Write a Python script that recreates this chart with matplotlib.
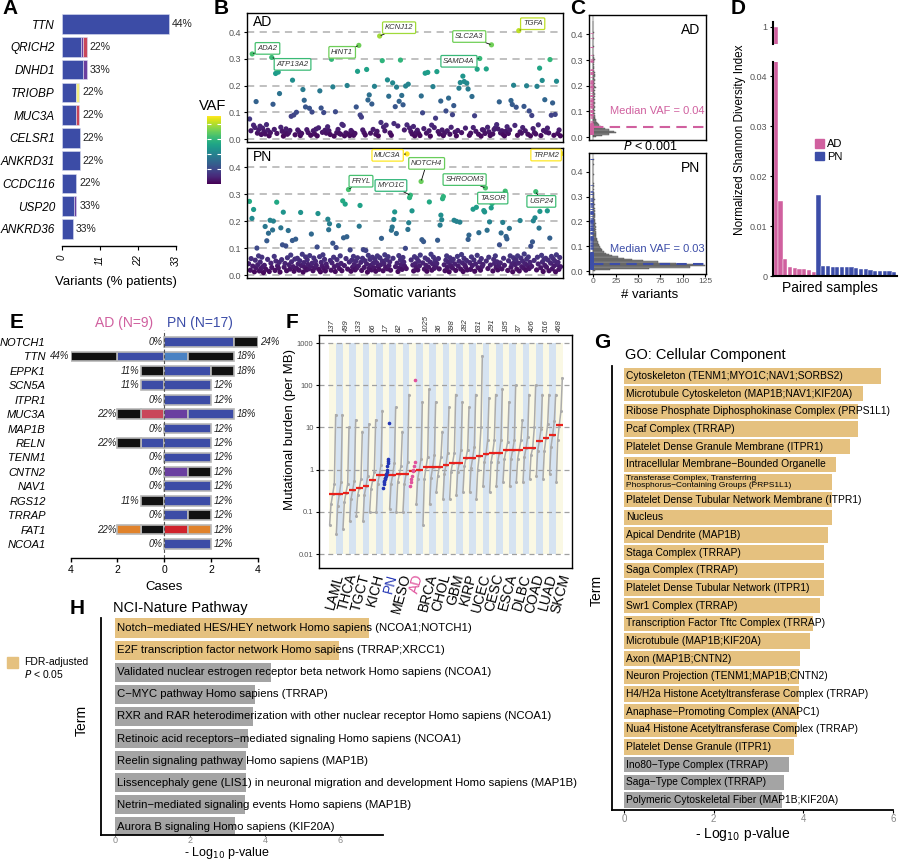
import matplotlib
matplotlib.use('Agg')
import matplotlib.pyplot as plt
import matplotlib.patches as patches
import numpy as np
from matplotlib.colors import Normalize
from matplotlib.cm import ScalarMappable

W, H = 900, 861
plt.rcParams['font.family'] = ['Liberation Sans', 'DejaVu Sans']
plt.rcParams['axes.linewidth'] = 0.8

PINK = '#D0609F'
BLUE = '#3C4DA8'
GOLD = '#E5C17F'
GREY_BAR = '#A4A4A4'
TICK_GREY = '#555555'

MUT_COLORS = {
    'Missense': '#3C4CA6', 'Multi_Hit': '#111111', 'Frame_Shift_Ins': '#4A82C3',
    'Nonsense': '#6A3FA0', 'Frame_Shift_Del': '#C9465A', 'Splice_Site': '#E0822B',
    'In_Frame_Del': '#D0222B', 'In_Frame_Ins': '#F3EE80',
}

# ---------------- A: top mutated genes ----------------
A_GENES = ['TTN', 'QRICH2', 'DNHD1', 'TRIOBP', 'MUC3A', 'CELSR1', 'ANKRD31',
           'CCDC116', 'USP20', 'ANKRD36']
A_SEGMENTS = [
    [('Missense', 31.0)],
    [('Missense', 5.6), ('Nonsense', 0.5), ('Frame_Shift_Del', 1.0)],
    [('Missense', 6.1), ('Nonsense', 1.0)],
    [('Missense', 4.05), ('In_Frame_Ins', 0.85)],
    [('Missense', 3.95), ('Frame_Shift_Del', 1.05)],
    [('Missense', 5.1)],
    [('Missense', 5.1)],
    [('Missense', 4.15)],
    [('Missense', 3.6), ('Nonsense', 0.55)],
    [('Missense', 3.1)],
]
A_PCT = ['44%', '22%', '33%', '22%', '22%', '22%', '22%', '22%', '33%', '33%']

# ---------------- B: somatic variant VAF ----------------
AD_VAF = [
    0.075, 0.031, 0.318, 0.052, 0.043, 0.14, 0.022, 0.035, 0.048, 0.017,
    0.041, 0.028, 0.019, 0.054, 0.033, 0.012, 0.024, 0.305, 0.13, 0.036,
    0.245, 0.021, 0.25, 0.17, 0.044, 0.029, 0.011, 0.026, 0.038, 0.018,
    0.023, 0.032, 0.085, 0.22, 0.09, 0.016, 0.10, 0.034, 0.027, 0.013,
    0.021, 0.185, 0.145, 0.12, 0.035, 0.024, 0.115, 0.014, 0.101, 0.031,
    0.019, 0.037, 0.012, 0.042, 0.18, 0.116, 0.025, 0.099, 0.033, 0.022,
    0.046, 0.031, 0.017, 0.298, 0.195, 0.011, 0.102, 0.024, 0.036, 0.021,
    0.018, 0.055, 0.051, 0.012, 0.023, 0.20, 0.019, 0.013, 0.032, 0.026,
    0.014, 0.021, 0.12, 0.253, 0.35, 0.09, 0.082, 0.034, 0.024, 0.015,
    0.26, 0.146, 0.165, 0.022, 0.131, 0.036, 0.197, 0.018, 0.029, 0.012,
    0.385, 0.062, 0.293, 0.045, 0.031, 0.052, 0.221, 0.16, 0.023, 0.014,
    0.21, 0.058, 0.121, 0.194, 0.049, 0.141, 0.295, 0.163, 0.128, 0.034,
    0.198, 0.053, 0.205, 0.041, 0.028, 0.019, 0.047, 0.012, 0.024, 0.033,
    0.021, 0.013, 0.161, 0.098, 0.039, 0.246, 0.022, 0.249, 0.031, 0.011,
    0.052, 0.196, 0.043, 0.078, 0.252, 0.028, 0.019, 0.142, 0.034, 0.013,
    0.023, 0.105, 0.031, 0.153, 0.018, 0.044, 0.091, 0.125, 0.026, 0.012,
    0.032, 0.19, 0.211, 0.024, 0.235, 0.215, 0.041, 0.209, 0.187, 0.014,
    0.022, 0.159, 0.043, 0.087, 0.029, 0.261, 0.018, 0.301, 0.011, 0.035,
    0.033, 0.021, 0.262, 0.044, 0.027, 0.013, 0.352, 0.019, 0.036, 0.042,
    0.054, 0.038, 0.139, 0.023, 0.031, 0.017, 0.012, 0.029, 0.046, 0.021,
    0.034, 0.144, 0.129, 0.201, 0.051, 0.119, 0.014, 0.405, 0.027, 0.022,
    0.043, 0.122, 0.031, 0.199, 0.018, 0.105, 0.012, 0.088, 0.039, 0.024,
    0.019, 0.197, 0.053, 0.265, 0.013, 0.219, 0.032, 0.147, 0.026, 0.041,
    0.023, 0.297, 0.089, 0.135, 0.014, 0.092, 0.216, 0.021, 0.034, 0.012,
]
PN_VAF = [
    0.042, 0.273, 0.018, 0.061, 0.21, 0.033, 0.243, 0.012, 0.055, 0.027, 0.10, 0.038, 0.071, 0.015, 0.048, 0.024, 0.066, 0.031, 0.009,
    0.036, 0.18, 0.021, 0.127, 0.058, 0.155, 0.013, 0.203, 0.044, 0.028, 0.167, 0.2, 0.069, 0.017, 0.052, 0.27, 0.034, 0.026, 0.047,
    0.011, 0.175, 0.057, 0.112, 0.233, 0.029, 0.043, 0.108, 0.016, 0.064, 0.165, 0.038, 0.022, 0.074, 0.049, 0.128, 0.031, 0.014, 0.059,
    0.133, 0.025, 0.062, 0.041, 0.018, 0.053, 0.232, 0.035, 0.077, 0.011, 0.046, 0.028, 0.067, 0.019, 0.056, 0.039, 0.023, 0.072, 0.032,
    0.152, 0.044, 0.016, 0.063, 0.027, 0.051, 0.036, 0.104, 0.228, 0.021, 0.068, 0.012, 0.047, 0.033, 0.075, 0.024, 0.058, 0.015, 0.041,
    0.029, 0.207, 0.168, 0.19, 0.054, 0.018, 0.045, 0.118, 0.066, 0.031, 0.013, 0.102, 0.057, 0.037, 0.183, 0.024, 0.071, 0.043, 0.016,
    0.275, 0.138, 0.035, 0.263, 0.061, 0.142, 0.022, 0.317, 0.048, 0.093, 0.014, 0.055, 0.029, 0.069, 0.039, 0.019, 0.052, 0.026, 0.064,
    0.034, 0.181, 0.258, 0.047, 0.017, 0.062, 0.094, 0.028, 0.053, 0.091, 0.041, 0.011, 0.073, 0.025, 0.058, 0.036, 0.019, 0.066, 0.044,
    0.027, 0.059, 0.014, 0.046, 0.071, 0.032, 0.021, 0.064, 0.038, 0.136, 0.052, 0.016, 0.043, 0.075, 0.029, 0.057, 0.023, 0.068, 0.035,
    0.049, 0.018, 0.166, 0.178, 0.062, 0.206, 0.234, 0.031, 0.154, 0.044, 0.013, 0.072, 0.026, 0.057, 0.039, 0.021, 0.065, 0.048, 0.033,
    0.099, 0.024, 0.449, 0.169, 0.194, 0.287, 0.296, 0.056, 0.238, 0.037, 0.015, 0.068, 0.042, 0.027, 0.061, 0.019, 0.051, 0.034, 0.074,
    0.347, 0.131, 0.045, 0.124, 0.022, 0.063, 0.036, 0.014, 0.057, 0.029, 0.271, 0.048, 0.077, 0.018, 0.041, 0.066, 0.025, 0.053, 0.032,
    0.043, 0.129, 0.061, 0.023, 0.185, 0.222, 0.205, 0.283, 0.291, 0.038, 0.016, 0.055, 0.071, 0.028, 0.047, 0.012, 0.064, 0.035, 0.052,
    0.026, 0.058, 0.203, 0.041, 0.017, 0.199, 0.069, 0.033, 0.051, 0.196, 0.022, 0.076, 0.045, 0.013, 0.062, 0.037, 0.029, 0.054, 0.019,
    0.132, 0.148, 0.046, 0.021, 0.067, 0.035, 0.244, 0.056, 0.014, 0.041, 0.251, 0.073, 0.027, 0.157, 0.049, 0.018, 0.061, 0.032, 0.039,
    0.239, 0.234, 0.323, 0.052, 0.166, 0.024, 0.066, 0.197, 0.037, 0.249, 0.265, 0.015, 0.058, 0.043, 0.071, 0.028, 0.049, 0.019, 0.034,
    0.112, 0.045, 0.156, 0.023, 0.195, 0.062, 0.036, 0.311, 0.143, 0.134, 0.017, 0.053, 0.173, 0.071, 0.029, 0.041, 0.012, 0.064, 0.048,
    0.038, 0.057, 0.022, 0.071, 0.044, 0.015, 0.202, 0.063, 0.031, 0.051, 0.026, 0.078, 0.042, 0.018, 0.059, 0.035, 0.067, 0.024, 0.047,
    0.107, 0.032, 0.123, 0.201, 0.054, 0.212, 0.309, 0.019, 0.066, 0.041, 0.174, 0.236, 0.027, 0.073, 0.048, 0.013, 0.058, 0.036, 0.062,
    0.029, 0.238, 0.055, 0.016, 0.137, 0.044, 0.069, 0.023, 0.061, 0.034, 0.052, 0.012, 0.075, 0.039, 0.047, 0.021, 0.065, 0.031, 0.45,
]
# labelled genes: (gene, vaf of its variant, label offset in points)
AD_LABELS = [('ADA2', 0.318, (11, 4)), ('ATP13A2', 0.305, (15, -5)), ('HINT1', 0.35, (-12, -5)),
             ('KCNJ12', 0.385, (14, 6)), ('SLC2A3', 0.352, (-16, 6)), ('SAMD4A', 0.301, (-15, -2)),
             ('TGFA', 0.405, (10, 5))]
PN_LABELS = [('MUC3A', 0.449, (-14, -1)), ('NOTCH4', 0.347, (4, 13)), ('FRYL', 0.317, (9, 6)),
             ('MYO1C', 0.296, (-14, 7)), ('SHROOM3', 0.323, (-15, 6)), ('TASOR', 0.311, (-9, -5)),
             ('USP24', 0.309, (4, -7)), ('TRPM2', 0.45, (-11, -1))]

# ---------------- C: VAF histograms (bin width 0.005) ----------------
AD_HIST = [3, 9, 17, 25, 23, 17, 13, 10, 8, 6, 5, 4, 3, 3, 2,
           2, 2, 1, 2, 1, 2, 1, 1, 2, 1, 1, 2, 1, 1, 2,
           1, 2, 1, 2, 1, 1, 2, 1, 3, 2, 1, 2, 1, 1, 2,
           1, 1, 2, 2, 1, 2, 1, 0, 1, 1, 0, 1, 0, 1, 1,
           2, 1, 0, 1, 0, 0, 0, 0, 0, 0, 1, 0, 0, 0, 0,
           0, 1, 0, 0, 0, 0, 1, 0, 0, 0, 0, 0, 0, 0, 0]
PN_HIST = [2, 18, 62, 108, 125, 112, 92, 72, 55, 43, 34, 27, 21, 17, 14,
           12, 10, 9, 8, 7, 6, 6, 5, 5, 4, 4, 4, 3, 3, 3,
           3, 3, 2, 3, 2, 3, 2, 2, 3, 2, 2, 2, 1, 2, 2,
           2, 2, 1, 2, 1, 2, 1, 1, 2, 1, 1, 1, 2, 1, 1,
           1, 1, 1, 1, 0, 1, 0, 0, 1, 0, 1, 0, 0, 0, 0,
           0, 0, 1, 0, 0, 0, 0, 0, 0, 0, 1, 0, 0, 0, 1]
AD_MEDIAN_VAF = 0.04
PN_MEDIAN_VAF = 0.03

# ---------------- D: Shannon diversity ----------------
D_AD = [1.0, 0.0151, 0.0035, 0.0019, 0.0017, 0.0014, 0.0014, 0.0013, 0.0008]
D_PN = [0.0163, 0.0021, 0.0020, 0.0019, 0.0019, 0.0018, 0.0018, 0.0018, 0.0017,
        0.0014, 0.0014, 0.0013, 0.0011, 0.0011, 0.0011, 0.0010, 0.0008]

# ---------------- E: AD vs PN cases ----------------
E_GENES = ['NOTCH1', 'TTN', 'EPPK1', 'SCN5A', 'ITPR1', 'MUC3A', 'MAP1B', 'RELN',
           'TENM1', 'CNTN2', 'NAV1', 'RGS12', 'TRRAP', 'FAT1', 'NCOA1']
E_AD = [[], [('Missense', 2), ('Multi_Hit', 2)], [('Multi_Hit', 1)], [('Missense', 1)], [],
        [('Frame_Shift_Del', 1), ('Multi_Hit', 1)], [], [('Missense', 1), ('Multi_Hit', 1)],
        [], [], [], [('Multi_Hit', 1)], [], [('Multi_Hit', 1), ('Splice_Site', 1)], []]
E_PN = [[('Missense', 3), ('Multi_Hit', 1)], [('Frame_Shift_Ins', 1), ('Multi_Hit', 2)],
        [('Missense', 2), ('Multi_Hit', 1)], [('Missense', 2)], [('Missense', 2)],
        [('Nonsense', 1), ('Missense', 2)], [('Missense', 2)], [('Missense', 2)],
        [('Missense', 2)], [('Nonsense', 1), ('Multi_Hit', 1)], [('Missense', 2)],
        [('Missense', 2)], [('Missense', 1), ('Multi_Hit', 1)],
        [('In_Frame_Del', 1), ('Splice_Site', 1)], [('Missense', 2)]]
N_AD, N_PN = 9, 17

# ---------------- F: TCGA mutational burden ----------------
F_LABELS = ['LAML', 'THCA', 'TGCT', 'KICH', 'PN', 'MESO', 'AD', 'BRCA', 'CHOL', 'GBM',
            'KIRP', 'UCEC', 'CESC', 'ESCA', 'DLBC', 'COAD', 'LUAD', 'SKCM']
F_N = [137, 499, 133, 66, 17, 82, 9, 1025, 36, 398, 282, 531, 291, 185, 37, 406, 516, 468]
# one entry per column (35 cohorts, only every other one is labelled); None = own cohort
F_MEDIAN = [0.26, 0.26, 0.285, 0.33, 0.37, 0.40, 0.56, 0.73, None, 0.75, 0.77, 0.77, None,
            1.0, 1.13, 1.13, 1.13, 1.3, 1.47, 1.47, 1.9, 1.9, 2.15, 2.35, 2.5, 2.5, 2.85,
            2.9, 3.0, 3.2, 3.25, 4.85, 5.6, 6.6, 11.7]
F_LO = [0.05, 0.03, 0.04, 0.06, 0.08, 0.06, 0.1, 0.1, None, 0.12, 0.1, 0.1, None,
        0.15, 0.05, 0.15, 0.3, 0.2, 0.2, 0.25, 0.3, 0.3, 0.2, 0.4, 0.3, 0.4, 0.5,
        0.4, 0.5, 0.5, 0.6, 0.7, 0.6, 0.8, 0.5]
F_Q25 = [0.15, 0.14, 0.17, 0.2, 0.25, 0.25, 0.35, 0.45, None, 0.45, 0.5, 0.45, None,
         0.6, 0.6, 0.65, 0.7, 0.8, 0.9, 0.9, 1.2, 1.1, 1.0, 1.5, 1.5, 1.5, 1.8,
         1.8, 1.8, 2.0, 2.2, 2.8, 2.8, 3.5, 5.0]
F_Q75 = [0.45, 0.5, 0.45, 0.55, 0.6, 0.7, 0.9, 1.3, None, 1.4, 1.2, 1.5, None,
         1.8, 2.0, 2.2, 2.0, 2.5, 2.5, 3.0, 3.0, 3.5, 10, 5, 5, 5, 4.5,
         5, 5, 6, 10, 9, 12, 14, 25]
F_HI = [20, 20, 10, 15, 8, 12, 15, 25, None, 30, 8, 60, None,
        40, 80, 40, 8, 30, 60, 40, 30, 60, 500, 50, 60, 80, 40,
        100, 15, 60, 100, 60, 60, 60, 150]
PN_TMB = [0.36, 0.45, 0.5, 0.55, 0.6, 0.62, 0.65, 0.7, 0.73, 0.8, 0.9, 1.0, 1.2, 1.4, 1.6, 1.8, 13]
AD_TMB = [0.4, 0.5, 0.6, 0.7, 0.95, 1.0, 1.2, 1.5, 130]

# ---------------- G: GO cellular component ----------------
GO_TERMS = [
    'Cytoskeleton (TENM1;MYO1C;NAV1;SORBS2)',
    'Microtubule Cytoskeleton (MAP1B;NAV1;KIF20A)',
    'Ribose Phosphate Diphosphokinase Complex (PRPS1L1)',
    'Pcaf Complex (TRRAP)',
    'Platelet Dense Granule Membrane (ITPR1)',
    'Intracellular Membrane\u2212Bounded Organelle',
    'Transferase Complex, Transferring\nPhosphorus\u2212Containing Groups (PRPS1L1)',
    'Platelet Dense Tubular Network Membrane (ITPR1)',
    'Nucleus',
    'Apical Dendrite (MAP1B)',
    'Staga Complex (TRRAP)',
    'Saga Complex (TRRAP)',
    'Platelet Dense Tubular Network (ITPR1)',
    'Swr1 Complex (TRRAP)',
    'Transcription Factor Tftc Complex (TRRAP)',
    'Microtubule (MAP1B;KIF20A)',
    'Axon (MAP1B;CNTN2)',
    'Neuron Projection (TENM1;MAP1B;CNTN2)',
    'H4/H2a Histone Acetyltransferase Complex (TRRAP)',
    'Anaphase\u2212Promoting Complex (ANAPC1)',
    'Nua4 Histone Acetyltransferase Complex (TRRAP)',
    'Platelet Dense Granule (ITPR1)',
    'Ino80\u2212Type Complex (TRRAP)',
    'Saga\u2212Type Complex (TRRAP)',
    'Polymeric Cytoskeletal Fiber (MAP1B;KIF20A)',
]
GO_VALUES = [5.73, 5.33, 5.23, 5.23, 5.04, 4.73, 4.65, 4.65, 4.64, 4.54, 4.45, 4.45, 4.45,
             4.36, 4.21, 4.15, 3.93, 3.91, 3.91, 3.91, 3.85, 3.80, 3.68, 3.56, 3.52]
GO_SIG = [True] * 22 + [False] * 3

# ---------------- H: NCI-Nature pathway ----------------
NCI_TERMS = [
    'Notch\u2212mediated HES/HEY network Homo sapiens (NCOA1;NOTCH1)',
    'E2F transcription factor network Homo sapiens (TRRAP;XRCC1)',
    'Validated nuclear estrogen receptor beta network Homo sapiens (NCOA1)',
    'C\u2212MYC pathway Homo sapiens (TRRAP)',
    'RXR and RAR heterodimerization with other nuclear receptor Homo sapiens (NCOA1)',
    'Retinoic acid receptors\u2212mediated signaling Homo sapiens (NCOA1)',
    'Reelin signaling pathway Homo sapiens (MAP1B)',
    'Lissencephaly gene (LIS1) in neuronal migration and development Homo sapiens (MAP1B)',
    'Netrin\u2212mediated signaling events Homo sapiens (MAP1B)',
    'Aurora B signaling Homo sapiens (KIF20A)',
]
NCI_VALUES = [6.77, 5.97, 4.15, 3.73, 3.69, 3.54, 3.49, 3.49, 3.47, 3.20]
NCI_SIG = [True, True] + [False] * 8


fig = plt.figure(figsize=(9, 8.61), dpi=100)


def px_axes(l, t, r, b):
    return fig.add_axes([l / W, 1 - b / H, (r - l) / W, (b - t) / H])


def ftext(x, y, s, **kw):
    kw.setdefault('ha', 'center')
    kw.setdefault('va', 'center')
    return fig.text(x / W, 1 - y / H, s, **kw)


def only_spines(ax, keep, lw=0.8):
    for name, sp in ax.spines.items():
        sp.set_visible(name in keep)
        sp.set_linewidth(lw)


# panel letters
for letter, (x, y) in {'A': (10, 8), 'B': (221, 8), 'C': (578, 8), 'D': (738, 8),
                       'E': (17, 322), 'F': (292, 323), 'G': (602, 343), 'H': (77, 609)}.items():
    ftext(x, y, letter, fontsize=15, fontweight='bold')

# ======== A ========
ax = px_axes(62, 12, 176, 246)
for i, segs in enumerate(A_SEGMENTS):
    left = 0
    for kind, w in segs:
        ax.barh(i, w, left=left, height=0.85, color=MUT_COLORS[kind], edgecolor='#DADDF0', lw=0.4)
        left += w
    ax.text(left + 0.9, i, A_PCT[i], va='center', ha='left', fontsize=7.5, color='#222222')
ax.set_xlim(0, 33)
ax.set_ylim(9.75, -0.53)
ax.set_yticks(range(len(A_GENES)))
ax.set_yticklabels(A_GENES, style='italic', fontsize=8.5)
ax.tick_params(axis='y', length=0, pad=5)
ax.set_xticks([0, 11, 22, 33])
ax.set_xticklabels(['0', '11', '22', '33'], rotation=90, style='italic', fontsize=7)
ax.tick_params(axis='x', length=3, width=0.8)
only_spines(ax, ['bottom'], lw=1.0)
ftext(116, 282, 'Variants (% patients)', fontsize=9.5)

# ======== B ========
cmap = plt.get_cmap('viridis')
norm = Normalize(0, 0.45)
for vafs, labels, (top, bot), tag in [(AD_VAF, AD_LABELS, (13, 142), 'AD'),
                                      (PN_VAF, PN_LABELS, (148, 278), 'PN')]:
    ax = px_axes(247, top, 563, bot)
    x = np.arange(len(vafs))
    for yv in [0, 0.1, 0.2, 0.3, 0.4]:
        ax.axhline(yv, color='#BBBBBB', lw=1.3, ls=(0, (4, 3)), zorder=0)
    ax.scatter(x, vafs, c=vafs, cmap=cmap, norm=norm, s=14, lw=0, zorder=2)
    ax.set_xlim(-2, len(vafs) + 1)
    ax.set_ylim(-0.011, 0.471)
    ax.set_xticks([])
    ax.set_yticks([0, 0.1, 0.2, 0.3, 0.4])
    ax.set_yticklabels(['0.0', '0.1', '0.2', '0.3', '0.4'])
    ax.tick_params(axis='y', labelsize=6.5, labelcolor=TICK_GREY, length=2, pad=2)
    for sp in ax.spines.values():
        sp.set_linewidth(1.0)
    ax.text(0.02, 0.93, tag, transform=ax.transAxes, fontsize=10, ha='left', va='center')
    for gene, v, off in labels:
        idx = vafs.index(v)
        col = cmap(norm(v))
        ax.annotate(gene, xy=(idx, v), xytext=off, textcoords='offset points',
                    fontsize=5.5, style='italic', color='#333333', ha='center', va='center',
                    bbox=dict(boxstyle='round,pad=0.3,rounding_size=0.15', fc='white', ec=col, lw=0.9),
                    arrowprops=dict(arrowstyle='-', color='black', lw=0.6, shrinkA=0, shrinkB=1),
                    zorder=4)
cax = px_axes(207, 116, 221, 184)
cb = fig.colorbar(ScalarMappable(norm=Normalize(0, 0.45), cmap=cmap), cax=cax, ticks=[0.1, 0.2, 0.3, 0.4])
cb.outline.set_visible(False)
cax.tick_params(length=3, color='white', direction='in', left=True, right=True,
                labelright=False, labelleft=False)
ftext(213, 106, 'VAF', fontsize=10.5)
ftext(405, 293, 'Somatic variants', fontsize=10)

# ======== C ========
bin_w = 0.005
centers = (np.arange(len(AD_HIST)) + 0.5) * bin_w
for hist, vafs, med, col, (top, bot), tag in [
        (AD_HIST, AD_VAF, AD_MEDIAN_VAF, PINK, (15, 140), 'AD'),
        (PN_HIST, PN_VAF, PN_MEDIAN_VAF, BLUE, (153, 274), 'PN')]:
    ax = px_axes(589, top, 706, bot)
    ax.axvline(0, color='#CCCCCC', lw=1.5, zorder=0)
    ax.barh(centers, hist, height=bin_w, color='#8A8A8A', edgecolor='#4A4A4A', lw=0.3, zorder=2)
    ax.hlines(vafs, -4, -0.8, color=col, lw=0.5, zorder=3)
    ax.plot([0, 126], [med, med], color=col, lw=1.5, ls=(0, (5, 3)), zorder=4)
    ax.text(124, med + 0.06, f'Median VAF = {med:.2f}', color=col, fontsize=8,
            ha='right', va='center')
    ax.text(0.95, 0.88, tag, transform=ax.transAxes, fontsize=10, ha='right', va='center')
    ax.set_xlim(-5, 126)
    ax.set_ylim(-0.011, 0.475)
    ax.set_yticks([0, 0.1, 0.2, 0.3, 0.4])
    ax.set_yticklabels(['0.0', '0.1', '0.2', '0.3', '0.4'])
    ax.tick_params(axis='y', labelsize=6.5, labelcolor=TICK_GREY, length=2, pad=2)
    ax.set_xticks([0, 25, 50, 75, 100, 125])
    ax.tick_params(axis='x', labelsize=6, labelcolor=TICK_GREY, length=2, pad=1)
    if tag == 'AD':
        ax.tick_params(axis='x', labelbottom=False, length=0)
    for sp in ax.spines.values():
        sp.set_linewidth(1.0)
ftext(650, 147, '$P$ < 0.001', fontsize=9)
ftext(650, 295, '# variants', fontsize=9.5)

# ======== D ========
d_vals = D_AD + D_PN
d_cols = [PINK] * len(D_AD) + [BLUE] * len(D_PN)
xs = np.arange(len(d_vals))
ax_lo = px_axes(773, 62, 897, 276)
ax_hi = px_axes(773, 22, 897, 44)
for a in (ax_lo, ax_hi):
    a.bar(xs, d_vals, width=0.88, color=d_cols, edgecolor='white', lw=0.3)
    a.set_xlim(-0.6, len(d_vals) - 0.4)
    a.set_xticks([])
    a.tick_params(axis='y', labelsize=6.5, labelcolor=TICK_GREY, length=2, pad=2)
ax_lo.set_ylim(0, 0.0428)
ax_lo.set_yticks([0, 0.01, 0.02, 0.03, 0.04])
ax_lo.set_yticklabels(['0', '0.01', '0.02', '0.03', '0.04'])
only_spines(ax_lo, ['left', 'bottom'], lw=1.5)
ax_hi.set_ylim(0.992, 1.0023)
ax_hi.set_yticks([1])
ax_hi.set_yticklabels(['1'])
only_spines(ax_hi, ['left'], lw=1.5)
ax_lo.legend(handles=[patches.Patch(color=PINK, label='AD'), patches.Patch(color=BLUE, label='PN')],
             loc='upper left', bbox_to_anchor=(0.3, 0.66), frameon=False, fontsize=8,
             handlelength=0.8, handleheight=0.8, handletextpad=0.3, labelspacing=0.2,
             borderaxespad=0)
ftext(740, 140, 'Normalized Shannon Diversity Index', fontsize=8.5, rotation=90)
ftext(830, 288, 'Paired samples', fontsize=10)

# ======== E ========
ax = px_axes(70.7, 330, 257.7, 558)
for i in range(len(E_GENES)):
    left = 0
    for kind, n in E_AD[i]:
        ax.barh(i, -n, left=left, height=0.68, color=MUT_COLORS[kind], edgecolor='#B8B8B8', lw=1.2)
        left -= n
    ax.text(left - 0.05, i, f'{round(100 * -left / N_AD)}%', ha='right', va='center',
            fontsize=7, style='italic', color='#222222')
    right = 0
    for kind, n in E_PN[i]:
        ax.barh(i, n, left=right, height=0.68, color=MUT_COLORS[kind], edgecolor='#B8B8B8', lw=1.2)
        right += n
    ax.text(right + 0.1, i, f'{round(100 * right / N_PN)}%', ha='left', va='center',
            fontsize=7, style='italic', color='#222222', clip_on=False)
ax.axvline(0, color='#555555', lw=0.8, ls=(0, (3, 2)), zorder=5)
ax.set_xlim(-4, 4)
ax.set_ylim(14.97, -0.83)
ax.set_yticks(range(len(E_GENES)))
ax.set_yticklabels(E_GENES, style='italic', fontsize=8)
ax.tick_params(axis='y', length=0, pad=18)
ax.set_xticks([-4, -2, 0, 2, 4])
ax.set_xticklabels(['4', '2', '0', '2', '4'])
ax.tick_params(axis='x', labelsize=7.5, length=3, width=1.0, pad=2)
only_spines(ax, ['bottom'], lw=1.0)
ftext(124, 323, f'AD (N={N_AD})', fontsize=10, color=PINK)
ftext(200, 323, f'PN (N={N_PN})', fontsize=10, color=BLUE)
ftext(164, 587, 'Cases', fontsize=9.5)

# ======== F ========
ax = px_axes(319, 335, 572, 568)
ax.set_yscale('log')
n_cols = len(F_MEDIAN)
for c in range(n_cols):
    ax.add_patch(patches.Rectangle((c - 0.5, 0.01), 1, 1000 - 0.01, lw=0,
                                   color='#FAF8E4' if c % 2 == 0 else '#D6E3F1', zorder=0))
for yv in [0.01, 0.1, 1, 10, 100, 1000]:
    ax.axhline(yv, color='#A0A0A0', lw=0.9, ls=(0, (4, 3)), zorder=1)
rel = np.array([-0.45, -0.25, 0, 0.25, 0.45])
for c in range(n_cols):
    if F_MEDIAN[c] is None:
        continue
    ys = [F_LO[c], F_Q25[c], F_MEDIAN[c], F_Q75[c], F_HI[c]]
    ax.plot(c + rel, ys, color='#ABABAB', lw=1.1, marker='o', ms=1.2, zorder=2)
    ax.hlines(F_MEDIAN[c], c - 0.5, c + 0.5, color='#E8211C', lw=1.6, zorder=4)
for vals, c, col in [(PN_TMB, 8, '#2436B5'), (AD_TMB, 12, '#E0529C')]:
    v = np.sort(vals)
    ax.plot(c + np.linspace(-0.4, 0.4, len(v)), v, 'o', color=col, ms=1.6, zorder=5)
    ax.hlines(np.median(v), c - 0.5, c + 0.5, color='#E8211C', lw=1.6, zorder=4)
ax.set_xlim(-2.05, 35.9)
ax.set_ylim(10 ** -2.33, 10 ** 3.19)
ax.set_yticks([0.01, 0.1, 1, 10, 100, 1000])
ax.set_yticklabels(['0.01', '0.1', '1', '10', '100', '1000'])
ax.minorticks_off()
ax.tick_params(axis='y', labelsize=5.5, labelcolor=TICK_GREY, length=2, pad=2)
label_pos = np.arange(0, n_cols, 2)
ax.set_xticks(label_pos)
ax.set_xticklabels(F_LABELS, rotation=75, ha='right', rotation_mode='anchor', fontsize=10)
ax.tick_params(axis='x', length=0, pad=3)
for t in ax.get_xticklabels():
    if t.get_text() == 'PN':
        t.set_color('#2436B5')
    elif t.get_text() == 'AD':
        t.set_color('#E0529C')
for p, n in zip(label_pos, F_N):
    ax.text(p, 10 ** 3.26, str(n), rotation=90, ha='center', va='bottom', fontsize=5.5,
            style='italic', color='#333333', clip_on=False)
for sp in ax.spines.values():
    sp.set_linewidth(1.0)
ftext(290, 430, 'Mutational burden (per MB)', fontsize=9.5, rotation=90)

# ======== G ========
ax = px_axes(612, 366, 893, 810)
ax.barh(range(len(GO_TERMS)), GO_VALUES, height=0.86,
        color=[GOLD if s else GREY_BAR for s in GO_SIG])
for i, term in enumerate(GO_TERMS):
    if '\n' in term:
        ax.text(0.05, i, term, ha='left', va='center', fontsize=6, linespacing=0.95)
    else:
        ax.text(0.05, i, term, ha='left', va='center', fontsize=7.4)
ax.set_xlim(-0.27, 6.0)
ax.set_ylim(24.57, -0.57)
ax.set_yticks([])
ax.set_xticks([0, 2, 4, 6])
ax.tick_params(axis='x', labelsize=7, labelcolor='#888888', length=2, pad=1)
only_spines(ax, ['left', 'bottom'], lw=1.3)
ftext(625, 355, 'GO: Cellular Component', fontsize=10.5, ha='left')
ftext(743, 834, r'- Log$_{10}$ p-value', fontsize=10)
ftext(597, 590, 'Term', fontsize=10, rotation=90)

# ======== H ========
ax = px_axes(101, 618, 383, 835)
ax.barh(range(len(NCI_TERMS)), NCI_VALUES, height=0.88,
        color=[GOLD if s else GREY_BAR for s in NCI_SIG])
for i, term in enumerate(NCI_TERMS):
    ax.text(0.06, i, term, ha='left', va='center', fontsize=8.2, clip_on=False)
ax.set_xlim(-0.37, 7.15)
ax.set_ylim(9.37, -0.46)
ax.set_yticks([])
ax.set_xticks([0, 2, 4, 6])
ax.tick_params(axis='x', labelsize=6.5, labelcolor='#888888', length=1, pad=0)
only_spines(ax, ['left', 'bottom'], lw=1.3)
ftext(113, 608, 'NCI-Nature Pathway', fontsize=10.5, ha='left')
ftext(227, 861, r'- Log$_{10}$ p-value', fontsize=9, va='bottom')
ftext(82, 720, 'Term', fontsize=10, rotation=90)
fig.patches.append(patches.Rectangle((7 / W, 1 - 668 / H), 11 / W, 11 / H, color=GOLD,
                                     transform=fig.transFigure, figure=fig))
ftext(24, 662, 'FDR-adjusted', fontsize=7.5, ha='left')
ftext(24, 674, '$P$ < 0.05', fontsize=7.5, ha='left')

fig.savefig('out.png', dpi=100)
